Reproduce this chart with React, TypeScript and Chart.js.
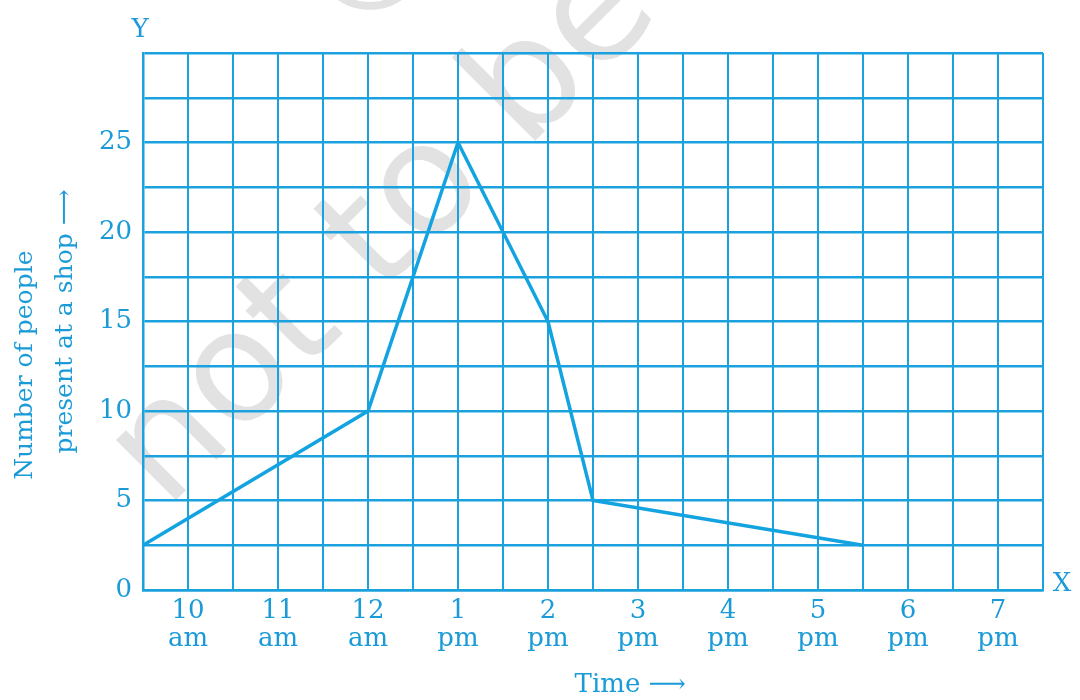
import { useEffect, useRef } from 'react';
import { Chart, registerables } from 'chart.js';

Chart.register(...registerables);

// time of day in hours (24h clock) and people in the shop
const timeHours = [9.5, 12, 13, 14, 14.5, 17.5];
const peopleCounts = [2.5, 10, 25, 15, 5, 2.5];

// x tick labels, one per hour from 10 to 19
const hourLabels = ['10', '11', '12', '1', '2', '3', '4', '5', '6', '7'];
const periodLabels = ['am', 'am', 'am', 'pm', 'pm', 'pm', 'pm', 'pm', 'pm', 'pm'];
const yLabelValues = [0, 5, 10, 15, 20, 25];

const BLUE = '#1ba2de';
const TEXT = '#1a9bd7';
const SERIF = '"DejaVu Serif", "Liberation Serif", serif';

const decorPlugin = {
  id: 'decor',
  beforeDraw(chart: Chart) {
    // grey watermark under the grid
    const ctx = chart.ctx;
    ctx.save();
    ctx.translate(166, 510);
    ctx.rotate(-Math.PI / 4);
    ctx.fillStyle = '#e2e2e2';
    ctx.font = '155px "DejaVu Sans", sans-serif';
    ctx.textBaseline = 'alphabetic';
    ctx.fillText('not to be republished', 0, 0);
    ctx.fillText('© NCERT', 460, -193);
    ctx.restore();
  },
  afterDraw(chart: Chart) {
    const ctx = chart.ctx;
    const { left, right, top, bottom } = chart.chartArea;
    ctx.save();
    ctx.fillStyle = TEXT;
    ctx.font = `26px ${SERIF}`;
    ctx.textAlign = 'center';
    ctx.textBaseline = 'middle';
    ctx.fillText('Y', left - 3, top - 23);
    ctx.fillText('X', right + 19, bottom - 6);
    ctx.restore();
  },
};

export default function App() {
  const canvasRef = useRef<HTMLCanvasElement>(null);

  useEffect(() => {
    if (!canvasRef.current) return;

    const chart = new Chart(canvasRef.current, {
      type: 'line',
      data: {
        datasets: [
          {
            data: timeHours.map((t, i) => ({ x: t, y: peopleCounts[i] })),
            borderColor: '#12a3e0',
            borderWidth: 3.5,
            pointRadius: 0,
            tension: 0,
            clip: false,
          },
        ],
      },
      options: {
        animation: false,
        responsive: true,
        maintainAspectRatio: false,
        layout: { padding: { top: 53, right: 37, left: 0, bottom: 0 } },
        plugins: { legend: { display: false }, tooltip: { enabled: false } },
        scales: {
          x: {
            type: 'linear',
            min: 9.5,
            max: 19.5,
            afterFit: (scale: any) => {
              scale.height = 110;
            },
            ticks: {
              stepSize: 0.5,
              autoSkip: false,
              maxRotation: 0,
              padding: 8,
              color: TEXT,
              font: { family: SERIF, size: 26, lineHeight: 1.05 },
              callback: (v: any) => {
                const i = Number(v) - 10;
                return Number.isInteger(i) && i >= 0 && i < hourLabels.length
                  ? [hourLabels[i], periodLabels[i]]
                  : '';
              },
            },
            grid: { color: BLUE, lineWidth: 2, drawTicks: false },
            border: { color: BLUE, width: 2.5 },
            title: {
              display: true,
              text: '         Time ⟶',
              color: TEXT,
              font: { family: SERIF, size: 26, lineHeight: 1.1 },
              padding: { top: 0, bottom: 0 },
            },
          },
          y: {
            type: 'linear',
            min: 0,
            max: 30,
            afterFit: (scale: any) => {
              scale.width = 143;
            },
            ticks: {
              stepSize: 2.5,
              autoSkip: false,
              padding: 11,
              color: TEXT,
              font: { family: SERIF, size: 26 },
              callback: (v: any) => (yLabelValues.includes(Number(v)) ? String(v) : ''),
            },
            grid: { color: BLUE, lineWidth: 2.5, drawTicks: false },
            border: { color: BLUE, width: 2.5 },
            title: {
              display: true,
              text: ['Number of people           ', 'present at a shop ⟶'],
              color: TEXT,
              font: { family: SERIF, size: 25, lineHeight: 1.6 },
              padding: { top: 5, bottom: 0 },
            },
          },
        },
      },
      plugins: [decorPlugin],
    });

    return () => {
      chart.destroy();
    };
  }, []);

  return (
    <div style={{ position: 'absolute', left: 0, top: 0, width: 1080, height: 700, background: '#fff' }}>
      <canvas ref={canvasRef} />
    </div>
  );
}
